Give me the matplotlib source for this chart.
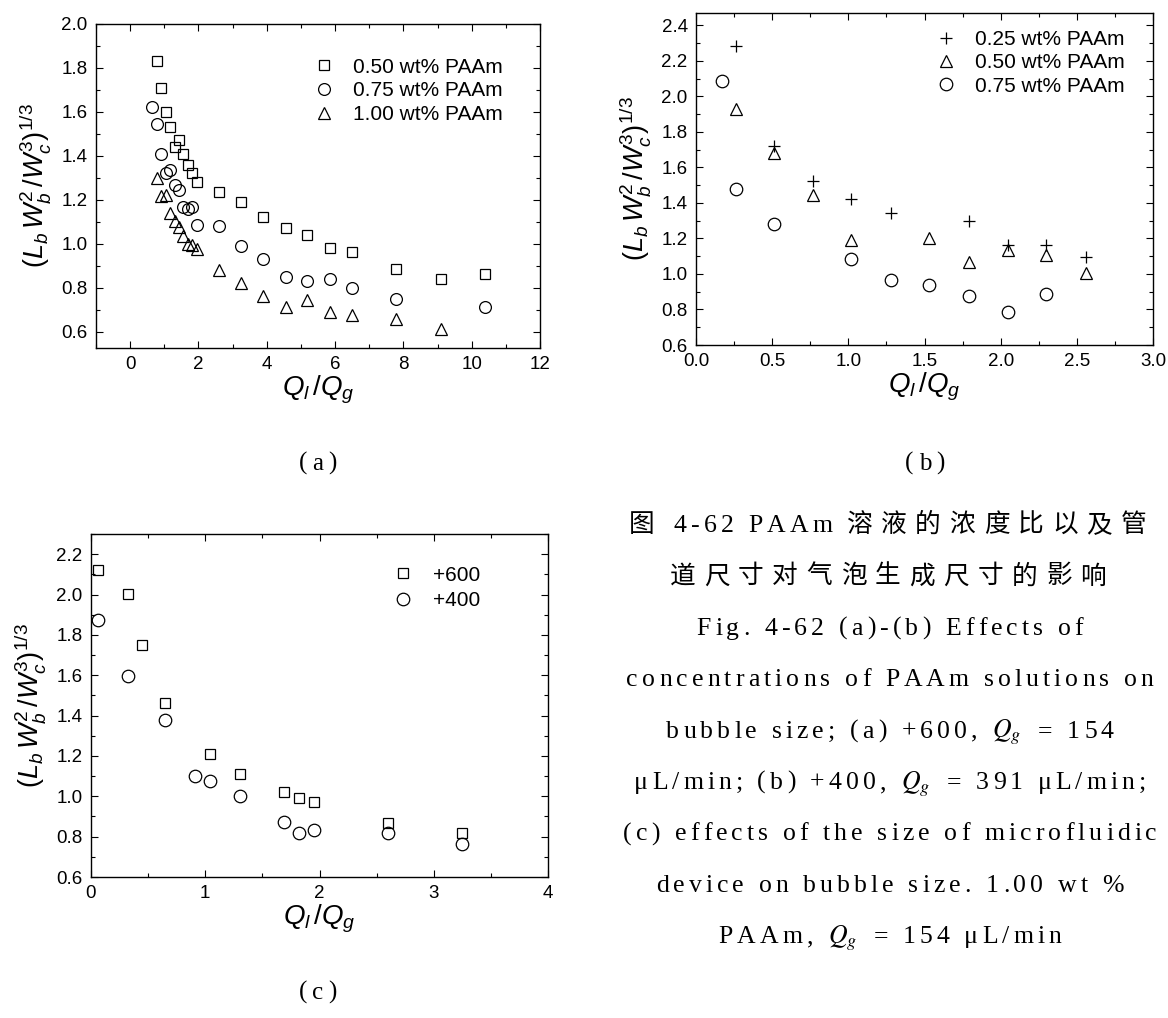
import re

import matplotlib

matplotlib.use("Agg")
import matplotlib.pyplot as plt
from matplotlib.font_manager import FontProperties
from matplotlib.ticker import FormatStrFormatter, MultipleLocator

plt.rcParams["font.family"] = ["Liberation Sans"]
plt.rcParams["mathtext.fontset"] = "custom"
plt.rcParams["mathtext.rm"] = "Liberation Sans"
plt.rcParams["mathtext.it"] = "Liberation Sans:italic"
plt.rcParams["mathtext.bf"] = "Liberation Sans:bold"

# (a) +600, Qg = 154 uL/min
a_x_050 = [0.78, 0.91, 1.04, 1.17, 1.30, 1.43, 1.56, 1.69, 1.82, 1.95,
           2.60, 3.25, 3.90, 4.55, 5.19, 5.84, 6.49, 7.79, 9.09, 10.39]
a_y_050 = [1.83, 1.71, 1.60, 1.53, 1.44, 1.47, 1.41, 1.36, 1.32, 1.28,
           1.235, 1.19, 1.12, 1.07, 1.04, 0.98, 0.96, 0.885, 0.84, 0.86]
a_x_075 = [0.65, 0.78, 0.91, 1.04, 1.17, 1.30, 1.43, 1.56, 1.69, 1.82,
           1.95, 2.60, 3.25, 3.90, 4.55, 5.19, 5.84, 6.49, 7.79, 10.39]
a_y_075 = [1.62, 1.545, 1.41, 1.32, 1.335, 1.265, 1.245, 1.165, 1.16, 1.165,
           1.085, 1.08, 0.99, 0.93, 0.847, 0.83, 0.838, 0.80, 0.75, 0.71]
a_x_100 = [0.78, 0.91, 1.04, 1.17, 1.30, 1.43, 1.56, 1.69, 1.82, 1.95,
           2.60, 3.25, 3.90, 4.55, 5.19, 5.84, 6.49, 7.79, 9.09]
a_y_100 = [1.30, 1.215, 1.22, 1.14, 1.105, 1.075, 1.035, 1.00, 0.995, 0.977,
           0.88, 0.823, 0.761, 0.712, 0.745, 0.688, 0.676, 0.658, 0.61]
a_labels = ["0.50 wt% PAAm", "0.75 wt% PAAm", "1.00 wt% PAAm"]

# (b) +400, Qg = 391 uL/min
b_x_025 = [0.26, 0.51, 0.77, 1.02, 1.28, 1.79, 2.05, 2.30, 2.56]
b_y_025 = [2.285, 1.72, 1.525, 1.425, 1.345, 1.30, 1.166, 1.161, 1.097]
b_x_050 = [0.26, 0.51, 0.77, 1.02, 1.53, 1.79, 2.05, 2.30, 2.56]
b_y_050 = [1.93, 1.684, 1.447, 1.19, 1.204, 1.067, 1.135, 1.107, 1.004]
b_x_075 = [0.17, 0.26, 0.51, 1.02, 1.28, 1.53, 1.79, 2.05, 2.30]
b_y_075 = [2.088, 1.481, 1.283, 1.083, 0.967, 0.94, 0.877, 0.787, 0.885]
b_labels = ["0.25 wt% PAAm", "0.50 wt% PAAm", "0.75 wt% PAAm"]

# (c) 1.00 wt% PAAm, Qg = 154 uL/min
c_x_600 = [0.065, 0.32, 0.45, 0.65, 1.04, 1.30, 1.69, 1.82, 1.95, 2.60, 3.25]
c_y_600 = [2.12, 2.005, 1.75, 1.462, 1.21, 1.11, 1.023, 0.99, 0.973, 0.87, 0.82]
c_x_400 = [0.065, 0.32, 0.65, 0.91, 1.04, 1.30, 1.69, 1.82, 1.95, 2.60, 3.25]
c_y_400 = [1.875, 1.597, 1.38, 1.103, 1.077, 1.003, 0.873, 0.817, 0.833, 0.82, 0.765]
c_labels = ["+600", "+400"]

panel_tags = ["(a)", "(b)", "(c)"]
caption = [
    "图 4-62 PAAm 溶液的浓度比以及管",
    "道尺寸对气泡生成尺寸的影响",
    "Fig. 4-62 (a)-(b) Effects of",
    "concentrations of PAAm solutions on",
    "bubble size; (a) +600, $Q_g$ = 154",
    "μL/min; (b) +400, $Q_g$ = 391 μL/min;",
    "(c) effects of the size of microfluidic",
    "device on bubble size. 1.00 wt %",
    "PAAm, $Q_g$ = 154 μL/min",
]

XLABEL = r"$Q_l\,/Q_g$"
YLABEL = r"$(L_b\,W_b^2\,/W_c^3)^{1/3}$"
SERIF = ["Liberation Serif", "Noto Sans CJK SC"]
W, H = 1168, 1018
MARK = dict(ls="none", mfc="none", mec="black", mew=0.9)


def add_axes_px(fig, left, top, right, bottom):
    return fig.add_axes([left / W, 1 - bottom / H, (right - left) / W, (bottom - top) / H])


def style_axes(ax, xlim, ylim, xstep, ystep, xfmt, yfmt):
    ax.set_xlim(*xlim)
    ax.set_ylim(*ylim)
    ax.xaxis.set_major_locator(MultipleLocator(xstep))
    ax.xaxis.set_minor_locator(MultipleLocator(xstep / 2))
    ax.yaxis.set_major_locator(MultipleLocator(ystep))
    ax.yaxis.set_minor_locator(MultipleLocator(ystep / 2))
    ax.xaxis.set_major_formatter(FormatStrFormatter(xfmt))
    ax.yaxis.set_major_formatter(FormatStrFormatter(yfmt))
    ax.tick_params(which="both", direction="in", top=True, right=True, width=0.8, labelsize=13.5)
    ax.tick_params(which="major", length=5, pad=6)
    ax.tick_params(which="minor", length=3)
    for sp in ax.spines.values():
        sp.set_linewidth(1.0)
    ax.set_xlabel(XLABEL, fontsize=20, labelpad=0)
    ax.set_ylabel(YLABEL, fontsize=19.5, labelpad=6)


def add_legend(ax, anchor, spacing=0.22):
    ax.legend(loc="upper left", bbox_to_anchor=anchor, frameon=False, fontsize=15,
              handlelength=1.0, handletextpad=0.9, labelspacing=spacing,
              borderpad=0, borderaxespad=0)


def draw_spaced(fig, renderer, text, xc, base, size, track, track_cjk):
    """Letter-spaced text centred on xc (pixels), baseline at base (pixels from top)."""
    fp = FontProperties(family=SERIF, size=size, math_fontfamily="stix")
    parts = re.findall(r"\$[^$]*\$|.", text)
    ref = renderer.get_text_width_height_descent("xx", fp, ismath=False)[0]
    adv = []
    for p in parts:
        if p.startswith("$"):
            w = renderer.get_text_width_height_descent(p, fp, ismath=True)[0] + 2
        else:
            w = renderer.get_text_width_height_descent("x" + p + "x", fp, ismath=False)[0] - ref
        adv.append(w + (track_cjk if ord(p[0]) > 0x2E80 else track))
    total = sum(adv) - track
    x = xc - total / 2
    for p, a in zip(parts, adv):
        fig.text(x / W, 1 - base / H, p, fontproperties=fp, ha="left", va="baseline")
        x += a


fig = plt.figure(figsize=(W / 100, H / 100), dpi=100)

# (a)
ax_a = add_axes_px(fig, 96, 24, 540, 348)
ax_a.plot(a_x_050, a_y_050, marker="s", ms=7.5, label=a_labels[0], **MARK)
ax_a.plot(a_x_075, a_y_075, marker="o", ms=8.5, label=a_labels[1], **MARK)
ax_a.plot(a_x_100, a_y_100, marker="^", ms=9, label=a_labels[2], **MARK)
style_axes(ax_a, (-1, 12), (0.525, 2.0), 2, 0.2, "%d", "%.1f")
add_legend(ax_a, (0.489, 0.896))

# (b)
ax_b = add_axes_px(fig, 696, 13, 1153, 345)
ax_b.plot(b_x_025, b_y_025, marker="+", ms=9, label=b_labels[0], **MARK)
ax_b.plot(b_x_050, b_y_050, marker="^", ms=9, label=b_labels[1], **MARK)
ax_b.plot(b_x_075, b_y_075, marker="o", ms=9, label=b_labels[2], **MARK)
style_axes(ax_b, (0, 3), (0.6, 2.47), 0.5, 0.2, "%.1f", "%.1f")
add_legend(ax_b, (0.524, 0.948), spacing=0.2)

# (c)
ax_c = add_axes_px(fig, 91, 534, 548, 877)
ax_c.plot(c_x_600, c_y_600, marker="s", ms=7.5, label=c_labels[0], **MARK)
ax_c.plot(c_x_400, c_y_400, marker="o", ms=9, label=c_labels[1], **MARK)
style_axes(ax_c, (0, 4), (0.6, 2.3), 1, 0.2, "%d", "%.1f")
add_legend(ax_c, (0.661, 0.908), spacing=0.32)

renderer = fig.canvas.get_renderer()
for tag, xc, base in zip(panel_tags, [318, 925, 318], [470, 470, 999]):
    draw_spaced(fig, renderer, tag, xc, base, 18, 5, 5)

for i, line in enumerate(caption):
    draw_spaced(fig, renderer, line, 890, 532 + 51.4 * i, 18.5, 4.1, 8.5)

fig.savefig("out.png", dpi=100)
